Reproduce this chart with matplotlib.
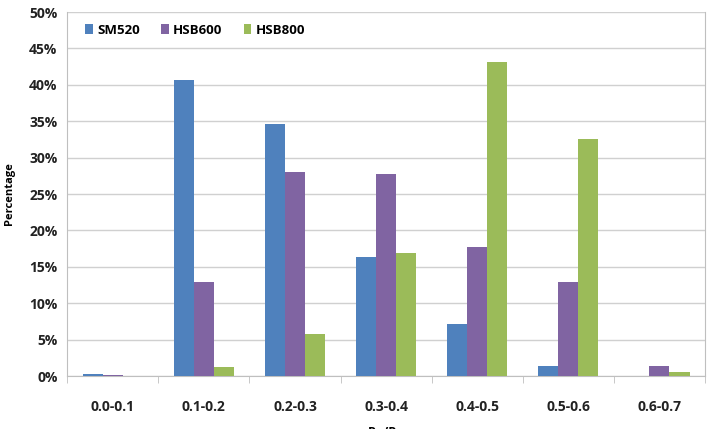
import numpy as np
import matplotlib.pyplot as plt
from matplotlib.ticker import PercentFormatter

categories = ['0.0-0.1', '0.1-0.2', '0.2-0.3', '0.3-0.4', '0.4-0.5', '0.5-0.6', '0.6-0.7']
sm520 = [0.3, 40.6, 34.6, 16.3, 7.2, 1.4, 0.0]
hsb600 = [0.1, 12.9, 28.0, 27.7, 17.7, 12.9, 1.4]
hsb800 = [0.0, 1.3, 5.8, 16.9, 43.2, 32.6, 0.5]

series = [('SM520', sm520, '#4F81BD'),
          ('HSB600', hsb600, '#8064A2'),
          ('HSB800', hsb800, '#9BBB59')]

plt.rcParams['font.family'] = ['Open Sans', 'DejaVu Sans']

fig = plt.figure(figsize=(7.15, 4.29), dpi=100)
ax = fig.add_axes([0.094, 0.1235, 0.892, 0.8485])

x = np.arange(len(categories))
w = 0.22
for i, (name, vals, col) in enumerate(series):
    ax.bar(x + (i - 1) * w, vals, w, color=col, label=name, zorder=3)

ax.set_xlim(-0.5, len(categories) - 0.5)
ax.set_ylim(0, 50)
ax.set_yticks(np.arange(0, 51, 5))
ax.yaxis.set_major_formatter(PercentFormatter(decimals=0))
ax.set_xticks(x)
ax.set_xticklabels(categories)
ax.set_xticks(np.arange(-0.5, len(categories), 1), minor=True)
ax.tick_params(axis='x', which='major', length=0, pad=17)
ax.tick_params(axis='x', which='minor', length=5, color='#BFBFBF')
ax.tick_params(axis='y', length=0, pad=7)
for lab in ax.get_xticklabels() + ax.get_yticklabels():
    lab.set_fontweight('bold')
    lab.set_fontsize(10)
    lab.set_color('#222222')

ax.grid(axis='y', color='#D0D0D0', linewidth=1, zorder=0)
for s in ['left', 'bottom', 'right']:
    ax.spines[s].set_color('#BFBFBF')
ax.spines['top'].set_visible(False)

ax.set_ylabel('Percentage', fontsize=8, fontweight='bold', labelpad=10)
ax.set_xlabel('Pu/Py', fontsize=9, fontweight='bold', labelpad=9)

leg = ax.legend(loc='upper left', ncol=3, frameon=False, bbox_to_anchor=(0.01, 1.0),
                handlelength=0.6, handleheight=0.8, handletextpad=0.3,
                columnspacing=1.6, prop={'weight': 'bold', 'size': 9.5})

fig.savefig('out.png', dpi=100)
